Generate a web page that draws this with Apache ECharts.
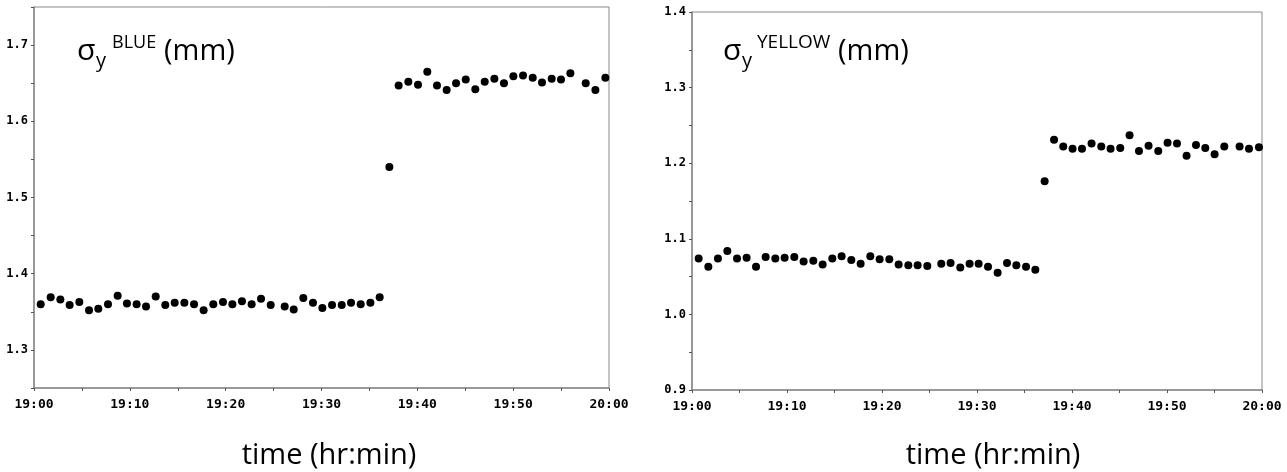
<!DOCTYPE html>
<html>
<head>
<meta charset="utf-8">
<script src="https://cdn.jsdelivr.net/npm/echarts@6/dist/echarts.min.js"></script>
<style>
    html, body { margin: 0; padding: 0; background: #fff; }
    #id-div-chart { width: 1287px; height: 472px; }
</style>
</head>
<body>
<div id="id-div-chart"></div>
<script>
// minutes after 19:00, and sigma_y (mm)
const blueTimes = [0.70, 1.74, 2.75, 3.72, 4.73, 5.74, 6.71, 7.72, 8.73, 9.70, 10.71, 11.69, 12.70, 13.70, 14.68, 15.69, 16.70, 17.70, 18.71, 19.72, 20.70, 21.70, 22.71, 23.69, 24.70, 26.16, 27.10, 28.10, 29.11, 30.09, 31.10, 32.11, 33.08, 34.09, 35.10, 36.07, 37.08, 38.05, 39.06, 40.07, 41.04, 42.05, 43.06, 44.04, 45.05, 46.05, 47.03, 48.04, 49.04, 50.02, 51.03, 52.04, 53.01, 54.02, 54.99, 55.97, 57.57, 58.58, 59.62]
const blueSigma = [1.360, 1.369, 1.366, 1.359, 1.363, 1.352, 1.354, 1.360, 1.371, 1.361, 1.360, 1.357, 1.370, 1.359, 1.362, 1.362, 1.360, 1.352, 1.360, 1.363, 1.360, 1.364, 1.360, 1.367, 1.359, 1.357, 1.353, 1.368, 1.362, 1.355, 1.359, 1.359, 1.362, 1.360, 1.362, 1.369, 1.540, 1.647, 1.652, 1.648, 1.665, 1.647, 1.641, 1.650, 1.655, 1.642, 1.652, 1.656, 1.650, 1.659, 1.660, 1.657, 1.651, 1.656, 1.655, 1.663, 1.650, 1.641, 1.657]

const yellowTimes = [0.70, 1.72, 2.73, 3.72, 4.74, 5.75, 6.74, 7.75, 8.77, 9.75, 10.77, 11.75, 12.77, 13.75, 14.77, 15.75, 16.77, 17.75, 18.77, 19.75, 20.77, 21.75, 22.77, 23.75, 24.77, 26.24, 27.22, 28.24, 29.22, 30.17, 31.16, 32.17, 33.16, 34.14, 35.16, 36.14, 37.12, 38.11, 39.08, 40.06, 41.05, 42.06, 43.08, 44.06, 45.08, 46.06, 47.05, 48.06, 49.08, 50.06, 51.05, 52.06, 53.05, 54.03, 55.01, 56.03, 57.64, 58.63, 59.68]
const yellowSigma = [1.074, 1.063, 1.074, 1.084, 1.074, 1.075, 1.063, 1.076, 1.074, 1.075, 1.076, 1.070, 1.071, 1.066, 1.074, 1.077, 1.072, 1.067, 1.077, 1.073, 1.073, 1.066, 1.065, 1.065, 1.064, 1.067, 1.068, 1.062, 1.067, 1.067, 1.063, 1.055, 1.068, 1.065, 1.063, 1.059, 1.176, 1.231, 1.222, 1.219, 1.219, 1.226, 1.222, 1.219, 1.220, 1.237, 1.216, 1.223, 1.216, 1.227, 1.226, 1.210, 1.224, 1.220, 1.212, 1.222, 1.222, 1.219, 1.221]

// axis ranges: min, max, interval
const timeTicks = [0, 60, 5]
const blueRange = [1.25, 1.75, 0.05]
const yellowRange = [0.9, 1.4, 0.05]

const gray = '#8a8a8a'
const tickFont = 'DejaVu Sans Mono'
const textFont = 'Open Sans'

//把分钟变成 19:xx
const timeLabel = function (m) {
    if (m % 10 !== 0) {
        return ''
    }
    let h = 19 + Math.floor(m / 60)
    let mm = m % 60
    return `${h}:${mm < 10 ? '0' + mm : mm}`
}

//只在 0.1 的倍数写刻度
const sigmaLabel = function (v) {
    let n = Math.round(v * 100)
    if (n % 10 !== 0) {
        return ''
    }
    return v.toFixed(1)
}

const pairs = function (xs, ys) {
    let d = []
    for (let i = 0; i < xs.length; i++) {
        d.push([xs[i], ys[i]])
    }
    return d
}

const xAxisOf = function (index) {
    return {
        type: 'value',
        gridIndex: index,
        min: timeTicks[0],
        max: timeTicks[1],
        interval: timeTicks[2],
        splitLine: { show: false },
        axisLine: { lineStyle: { color: gray, width: 1.5 } },
        axisTick: { length: 3, lineStyle: { color: '#555' } },
        axisLabel: {
            formatter: timeLabel,
            margin: 10,
            color: '#000',
            fontFamily: tickFont,
            fontWeight: 'bold',
            fontSize: 13,
            showMinLabel: true,
            showMaxLabel: true,
        },
    }
}

const yAxisOf = function (index, range) {
    return {
        type: 'value',
        gridIndex: index,
        min: range[0],
        max: range[1],
        interval: range[2],
        splitLine: { show: false },
        axisLine: { show: true, lineStyle: { color: gray, width: 1.5 } },
        axisTick: { show: true, length: 3, lineStyle: { color: '#555' } },
        axisLabel: {
            formatter: sigmaLabel,
            margin: 6,
            color: '#000',
            fontFamily: tickFont,
            fontWeight: 'bold',
            fontSize: 12,
            showMinLabel: true,
            showMaxLabel: true,
        },
    }
}

const textOf = function (text, x, y, size, align = 'left') {
    return {
        type: 'text',
        style: {
            text: text,
            x: x,
            y: y,
            font: `${size}px "${textFont}"`,
            fill: '#000',
            align: align,
            verticalAlign: 'middle',
        },
    }
}

const formattedOption = function () {
    let option = {
        animation: false,
        backgroundColor: '#fff',
        grid: [
            { left: 34, top: 7, width: 575, height: 381, show: true, borderColor: gray, borderWidth: 1 },
            { left: 692, top: 12, width: 570, height: 378, show: true, borderColor: gray, borderWidth: 1 },
        ],
        xAxis: [xAxisOf(0), xAxisOf(1)],
        yAxis: [yAxisOf(0, blueRange), yAxisOf(1, yellowRange)],
        series: [
            {
                name: 'BLUE',
                type: 'scatter',
                xAxisIndex: 0,
                yAxisIndex: 0,
                symbolSize: 8,
                itemStyle: { color: '#000', opacity: 1 },
                data: pairs(blueTimes, blueSigma),
            },
            {
                name: 'YELLOW',
                type: 'scatter',
                xAxisIndex: 1,
                yAxisIndex: 1,
                symbolSize: 8,
                itemStyle: { color: '#000', opacity: 1 },
                data: pairs(yellowTimes, yellowSigma),
            },
        ],
        graphic: [
            textOf('σ', 77, 51, 30),
            textOf('y', 96, 61, 20),
            textOf('BLUE', 112, 43, 18),
            textOf('(mm)', 164, 52, 29),
            textOf('σ', 723, 51, 30),
            textOf('y', 742, 61, 20),
            textOf('YELLOW', 757, 43, 19),
            textOf('(mm)', 838, 52, 29),
            textOf('time (hr:min)', 329, 456, 29, 'center'),
            textOf('time (hr:min)', 993, 456, 29, 'center'),
        ],
    }
    return option
}

const main = function () {
    let chart = echarts.init(document.querySelector('#id-div-chart'))
    chart.setOption(formattedOption())
}

main()
</script>
</body>
</html>
